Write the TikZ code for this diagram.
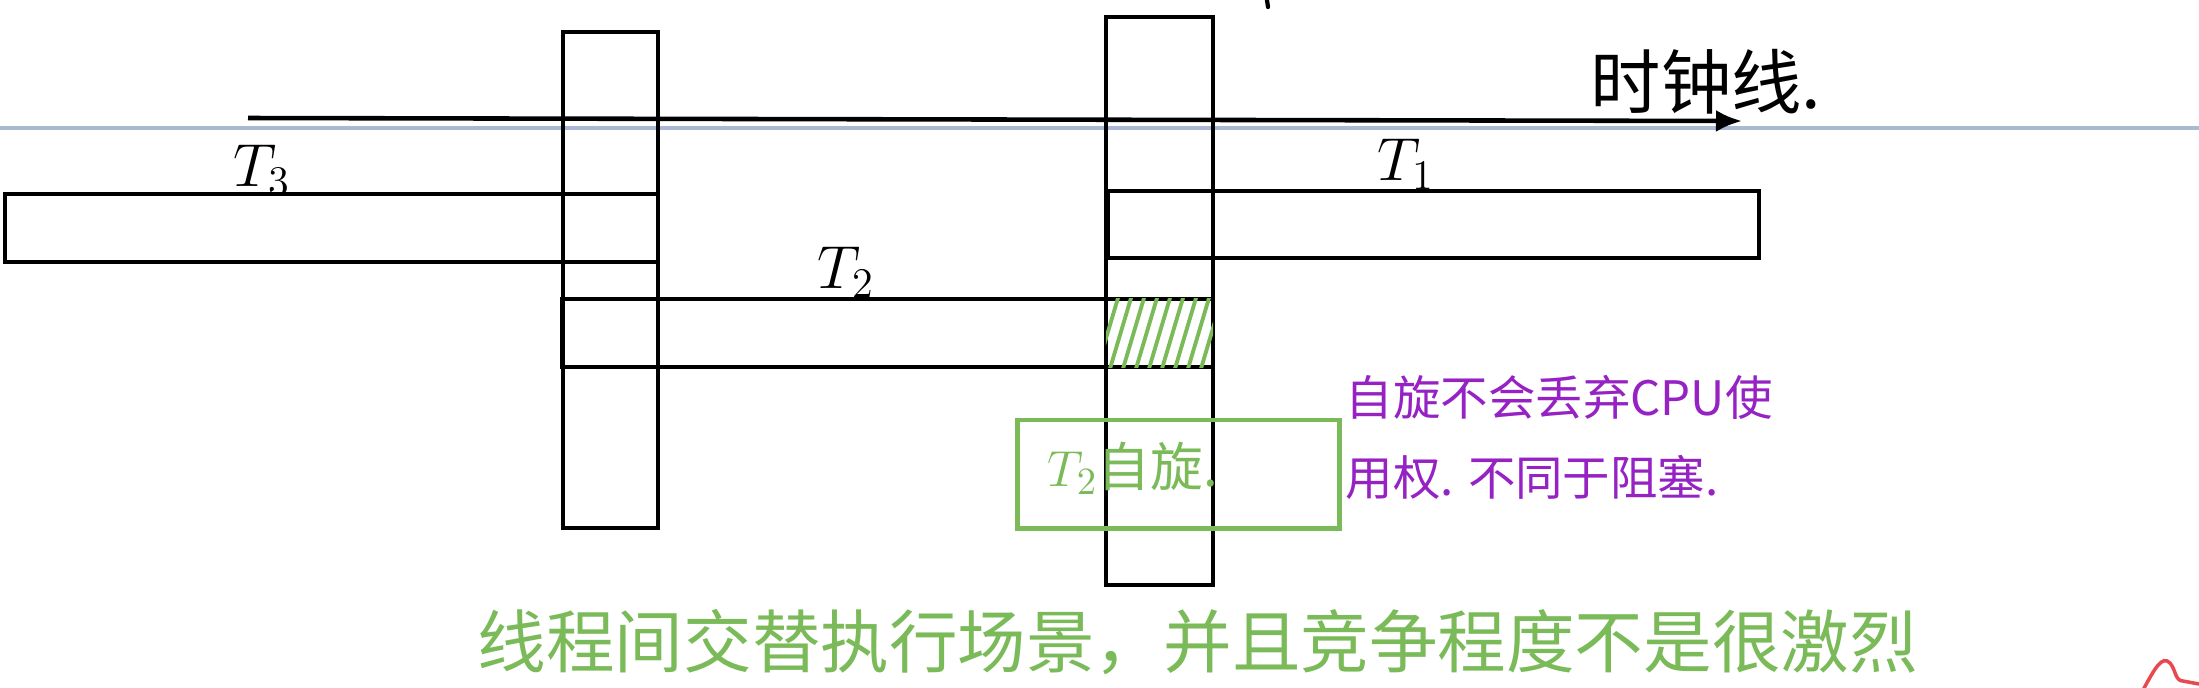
\documentclass[tikz,border=0pt]{standalone}
\usepackage{fontspec}
\usepackage{xcolor}
\usepackage{tikz}
\usetikzlibrary{arrows.meta}
\newfontfamily\cjk{Noto Sans CJK SC}
\definecolor{inkgreen}{RGB}{122,186,88}
\definecolor{inkpurple}{RGB}{150,34,196}
\definecolor{rulegray}{RGB}{170,184,214}
\definecolor{inkred}{RGB}{232,72,80}

\begin{document}
\begin{tikzpicture}[x=0.01cm, y=-0.01cm,
  slot/.style={draw, line width=1.3pt, inner sep=0pt, outer sep=0pt},
  tlabel/.style={font=\fontsize{17}{17}\selectfont, inner sep=0pt},
  hatch/.style={draw=inkgreen, line width=1.1pt, line cap=round}]
\useasboundingbox (0,0) rectangle (2199,687);

% notebook rule
\draw[rulegray, line width=0.9pt] (0,128) -- (2199,128);

% cpu slots of the two locks
\node[slot, minimum width=0.95cm, minimum height=4.96cm] (barA) at (610.5,280) {};
\node[slot, minimum width=1.07cm, minimum height=5.68cm] (barB) at (1159.5,301) {};

% threads
\node[slot, minimum width=6.53cm, minimum height=0.68cm] (t3) at (331.5,228) {};
\node[slot, minimum width=6.51cm, minimum height=0.68cm] (t2) at (887.5,333) {};
\node[slot, minimum width=6.51cm, minimum height=0.67cm] (t1) at (1433.5,224.5) {};
\node[tlabel, anchor=south] (t3lbl) at (262,196) {$T_3$};
\node[tlabel, anchor=south] (t2lbl) at (846,298) {$T_2$};
\node[tlabel, anchor=south] (t1lbl) at (1406,190) {$T_1$};

% spinning part of T2
\begin{scope}
\clip (barB.west |- t2.north) rectangle (barB.east |- t2.south);
\foreach \x in {1096,1109,...,1200}
  \draw[hatch] (\x,372) -- ++(22,-74);
\end{scope}

% clock line
\coordinate (clkstart) at (248,118);
\coordinate (clkend) at (1742,121);
\draw[line width=1.3pt, -{Latex[length=2.6mm, width=2.2mm]}] (clkstart) -- (clkend);
\node[anchor=west, inner sep=0pt, font=\cjk\fontsize{20}{20}\selectfont] (clklbl) at (1590,82) {时钟线.};
\draw[line width=1.2pt, line cap=round] (1267,0) -- (1268,7);

% notes
\node[draw=inkgreen, line width=1.4pt, inner sep=0pt, minimum width=3.21cm, minimum height=1.08cm] (spinbox) at (1178.5,474) {};
\node[anchor=west, inner sep=0pt, text=inkgreen, font=\cjk\fontsize{15}{15}\selectfont] (spinlbl) at (1047,468) {$T_2$自旋.};
\node[anchor=west, inner sep=0pt, align=left, text=inkpurple, font=\cjk\fontsize{13.5}{22.8}\selectfont] (spinnote) at (1345,437) {自旋不会丢弃CPU使\\用权. 不同于阻塞.};
\node[anchor=west, inner sep=0pt, text=inkgreen, font=\cjk\fontsize{19.5}{20}\selectfont] (scene) at (477,642) {线程间交替执行场景，并且竞争程度不是很激烈};

\draw[inkred, line width=1pt] (2143,690) .. controls (2155,668) and (2162,655) .. (2170,663) .. controls (2176,670) and (2175,681) .. (2183,681) -- (2199,684);
\end{tikzpicture}
\end{document}
